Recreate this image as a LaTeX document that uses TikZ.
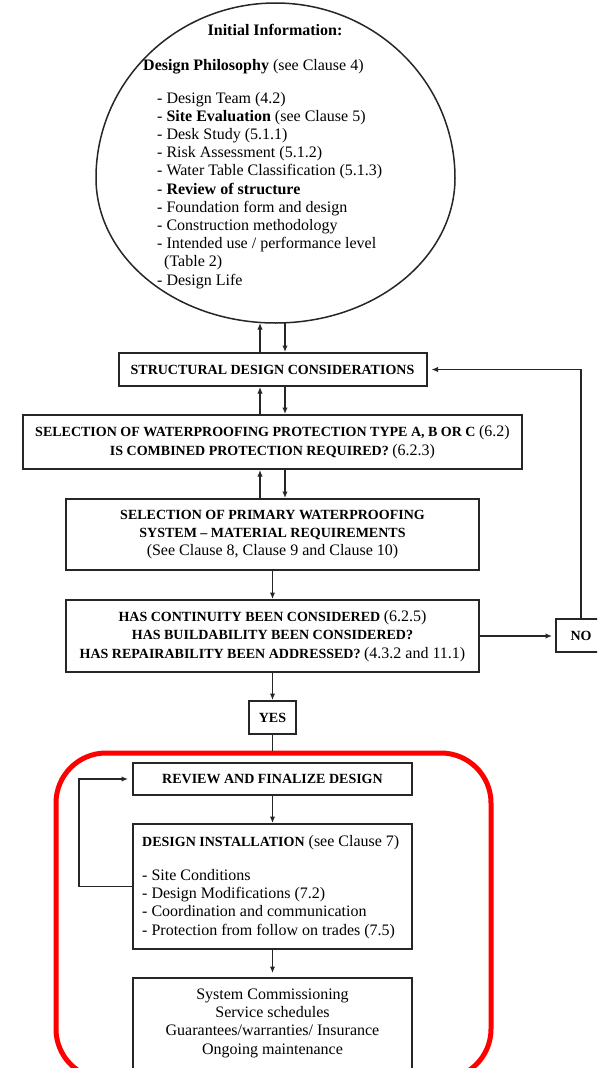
\documentclass[tikz,border=0pt]{standalone}
\usepackage{fontspec}
\setmainfont{Liberation Serif}
\usetikzlibrary{arrows.meta,shapes.geometric}
\newcommand\fxreg{\fontsize{16}{18.3}\selectfont\mdseries}
\newcommand\fxbold{\fontsize{14}{18.3}\selectfont\bfseries}
\newcommand\fxboldL{\fontsize{16}{18.3}\selectfont\bfseries}
\begin{document}
\begin{tikzpicture}[x=1pt,y=-1pt,
  box/.style={draw=black!85, line width=2pt, rectangle, inner sep=0pt, align=center, font=\fxbold},
  arr/.style={draw=black!85, line width=1.5pt, -{Latex[length=6.5pt,width=5.5pt]}},
  ln/.style={draw=black!85, line width=1.5pt},
  txt/.style={inner sep=0pt, anchor=base west, font=\fxreg},
]
\useasboundingbox (0,0) rectangle (597,1068);
\clip (0,0) rectangle (597,1068);
\fill[white] (0,0) rectangle (597,1068);

% egg-shaped ellipse outline
\draw[draw=black!85, line width=1.5pt] (455,178)
  arc[start angle=0, end angle=180, x radius=179.5, y radius=145]
  arc[start angle=180, end angle=360, x radius=179.5, y radius=175] -- cycle;
\coordinate (ellbot) at (275.5,323);

\node[inner sep=0pt, anchor=base, font=\fxboldL] (t0) at (275,35) {Initial Information:};
\node[txt] (t1) at (143,70) {\textbf{Design Philosophy} (see Clause 4)};
\node[txt] (l1) at (157,103) {- Design Team (4.2)};
\node[txt] (l2) at (157,121.2) {- \textbf{Site Evaluation} (see Clause 5)};
\node[txt] (l3) at (157,139.4) {- Desk Study (5.1.1)};
\node[txt] (l4) at (157,157.6) {- Risk Assessment (5.1.2)};
\node[txt] (l5) at (157,175.8) {- Water Table Classification (5.1.3)};
\node[txt] (l6) at (157,194) {- \textbf{Review of structure}};
\node[txt] (l7) at (157,212.2) {- Foundation form and design};
\node[txt] (l8) at (157,230.4) {- Construction methodology};
\node[txt] (l9) at (157,248.6) {- Intended use / performance level};
\node[txt] (l10) at (164,266.8) {(Table 2)};
\node[txt] (l11) at (157,285) {- Design Life};

% boxes
\node[box, minimum width=308, minimum height=33] (sdc) at (272.5,369.5) {STRUCTURAL DESIGN CONSIDERATIONS};
\node[box, minimum width=499, minimum height=54] (sel) at (272.5,442) {SELECTION OF WATERPROOFING PROTECTION TYPE A, B OR C {\fxreg(6.2)}\\IS COMBINED PROTECTION REQUIRED? {\fxreg(6.2.3)}};
\node[box, minimum width=413, minimum height=71] (pri) at (272.5,534.5) {SELECTION OF PRIMARY WATERPROOFING\\SYSTEM -- MATERIAL REQUIREMENTS\\{\fxreg(See Clause 8, Clause 9 and Clause 10)}};
\node[box, minimum width=413, minimum height=72] (cont) at (272.5,636) {HAS CONTINUITY BEEN CONSIDERED {\fxreg(6.2.5)}\\HAS BUILDABILITY BEEN CONSIDERED?\\HAS REPAIRABILITY BEEN ADDRESSED? {\fxreg(4.3.2 and 11.1)}};
\node[box, minimum width=50, minimum height=33] (no) at (581,635.5) {NO};
\node[box, minimum width=47, minimum height=33] (yes) at (272.5,717.5) {YES};
\node[box, minimum width=279, minimum height=32] (rev) at (272.5,779) {REVIEW AND FINALIZE DESIGN};
\node[box, minimum width=279, minimum height=125] (di) at (272.5,886.5) {};
\node[box, minimum width=279, minimum height=110] (fin) at (272.5,1033) {};

\node[txt] (dih) at (142,846) {{\fxbold DESIGN INSTALLATION} (see Clause 7)};
\node[txt] (d1) at (142,880) {- Site Conditions};
\node[txt] (d2) at (142,898.3) {- Design Modifications (7.2)};
\node[txt] (d3) at (142,916.6) {- Coordination and communication};
\node[txt] (d4) at (142,935) {- Protection from follow on trades (7.5)};

\node[inner sep=0pt, align=center, font=\fxreg] (fint) at (272.5,1023) {System Commissioning\\Service schedules\\Guarantees/warranties/ Insurance\\Ongoing maintenance};

% red frame
\node[draw=red, line width=5pt, rounded corners=50pt, minimum width=435, minimum height=326, inner sep=0pt] (frame) at (273.5,916) {};

% connectors
\draw[arr] ([xshift=-12.5pt]sdc.north) -- ([xshift=-12.5pt]sdc.north |- ellbot);
\draw[arr] ([xshift=12.5pt]sdc.north |- ellbot) -- ([xshift=12.5pt]sdc.north);
\draw[arr] ([xshift=-12.5pt]sel.north) -- ([xshift=-12.5pt]sdc.south);
\draw[arr] ([xshift=12.5pt]sdc.south) -- ([xshift=12.5pt]sel.north);
\draw[arr] ([xshift=-12.5pt]pri.north) -- ([xshift=-12.5pt]sel.south);
\draw[arr] ([xshift=12.5pt]sel.south) -- ([xshift=12.5pt]pri.north);
\draw[arr] (pri.south) -- (cont.north);
\draw[arr] (cont.south) -- (yes.north);
\draw[ln] (yes.south) -- (yes.south |- frame.north);
\draw[arr, shorten >=3pt] (cont.east) -- (cont.east -| no.west);
\draw[arr, shorten >=4pt] (no.north) |- (sdc.east);
\draw[arr] (rev.south) -- (di.north);
\draw[arr, shorten >=4pt] (di.south) -- (fin.north);
\draw[arr, shorten >=4pt] (di.west) -- ++(-53,0) |- (rev.west);
\end{tikzpicture}
\end{document}
